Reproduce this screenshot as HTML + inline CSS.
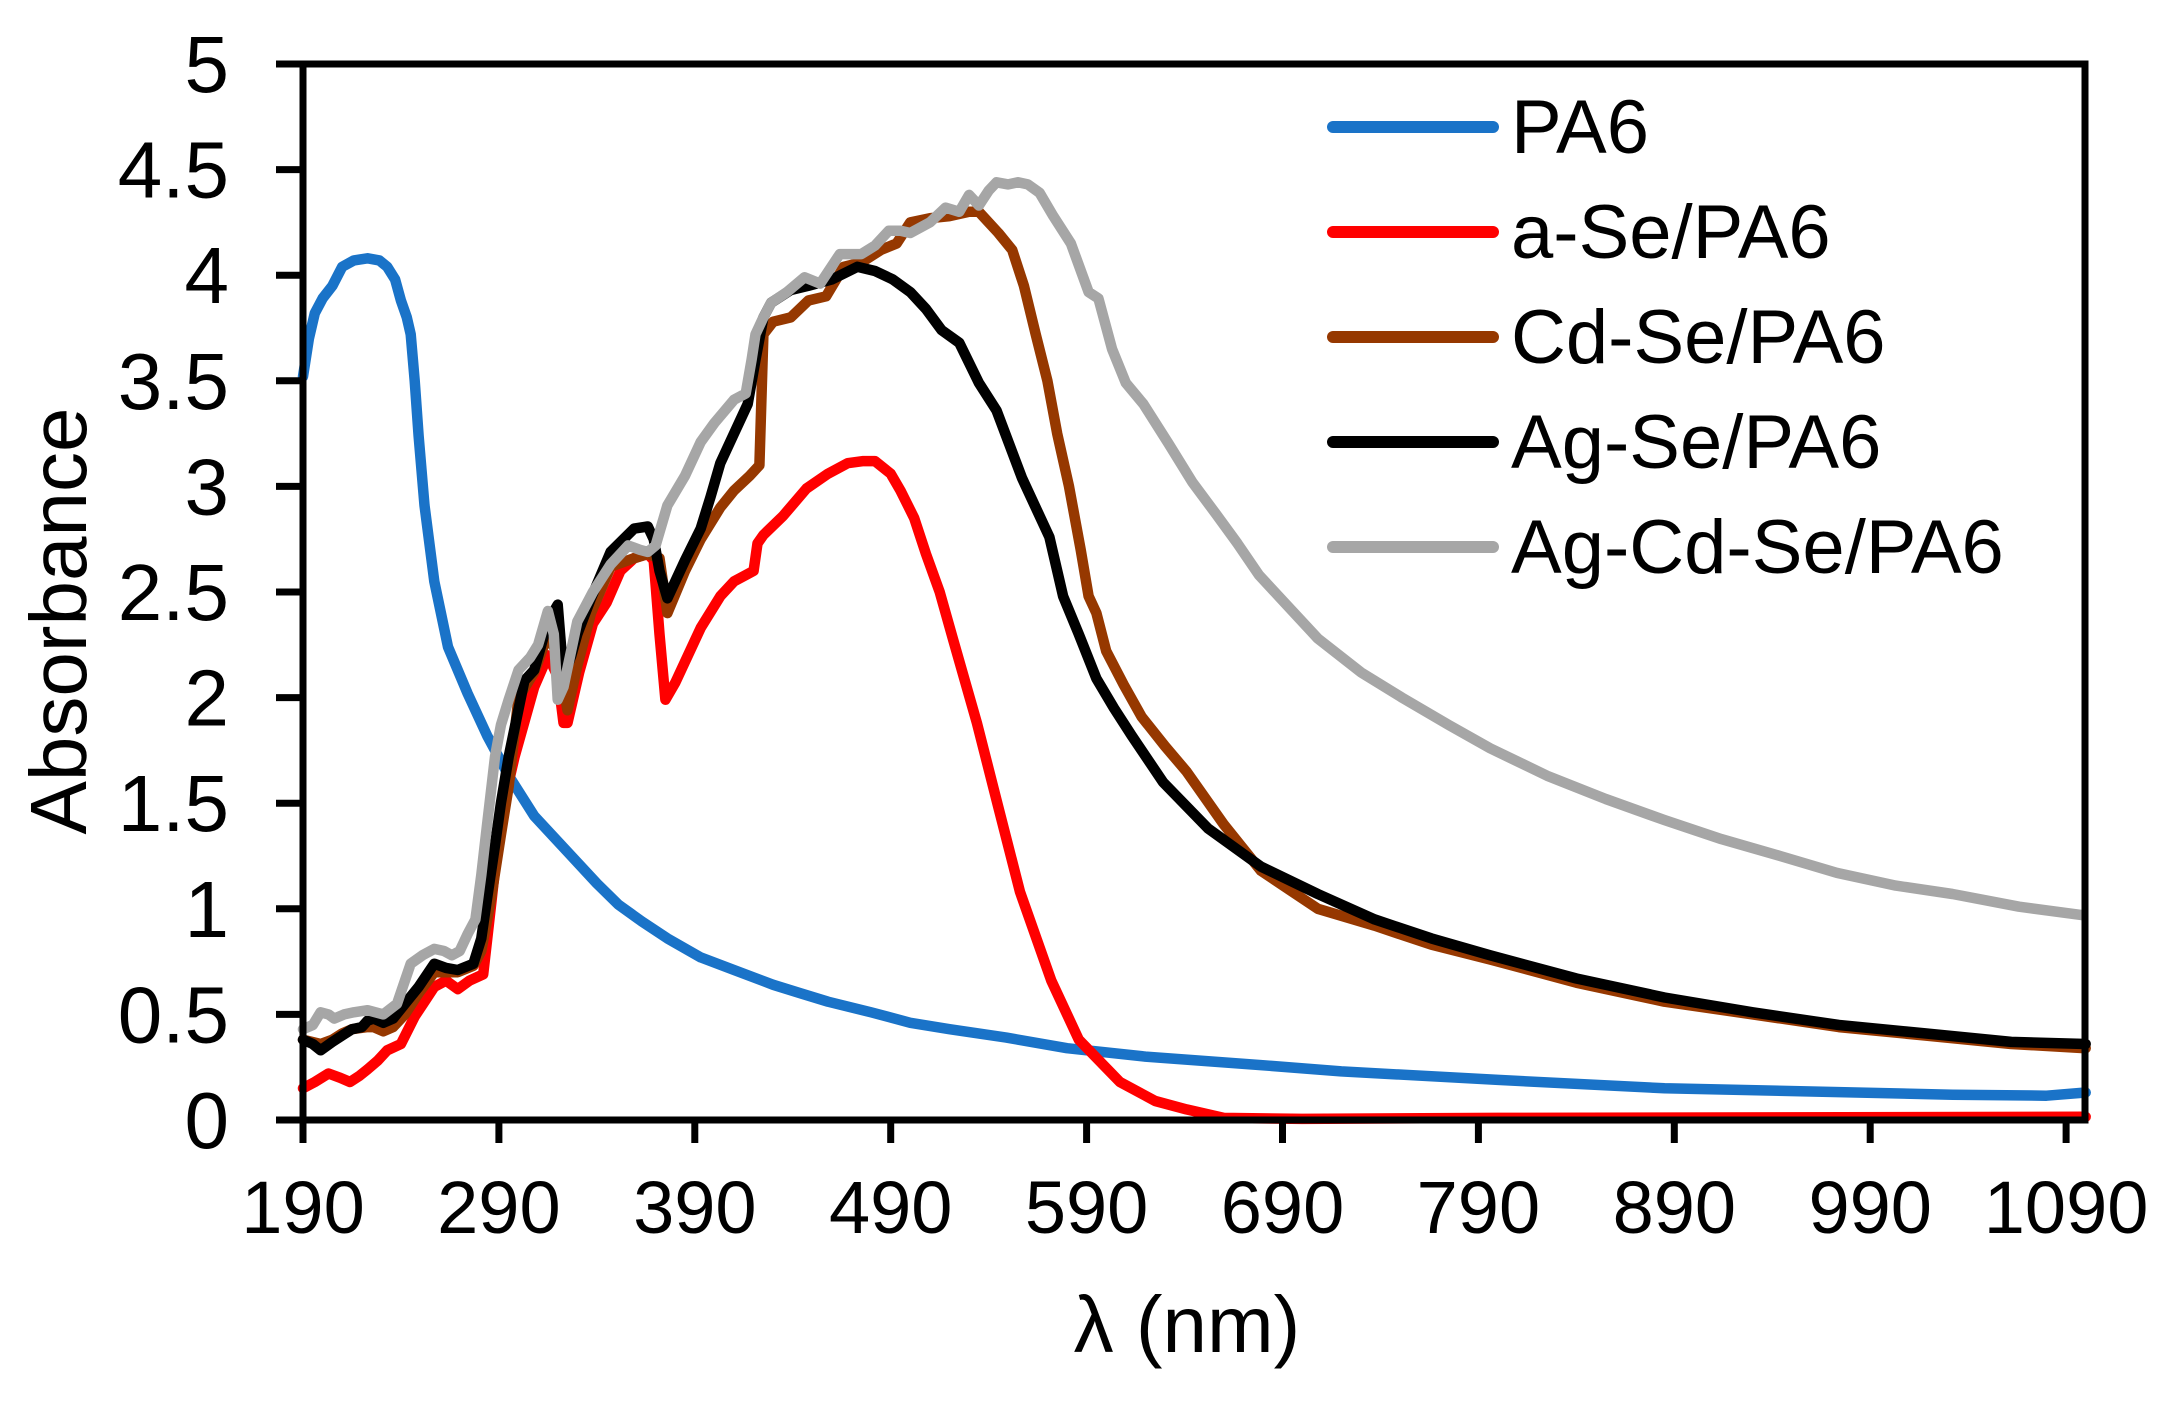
<!DOCTYPE html>
<html><head><meta charset="utf-8"><style>
html,body{margin:0;padding:0;background:#fff;}
svg{display:block;font-family:"Liberation Sans",Arial,sans-serif;}
</style></head><body>
<svg id="chart" width="2165" height="1401" viewBox="0 0 2165 1401" xmlns="http://www.w3.org/2000/svg">
<rect x="0" y="0" width="2165" height="1401" fill="#fff"/>
<g id="series"></g>
<g id="axes"></g>
<g id="legend"></g>
<text x="1187" y="1352" font-size="80" text-anchor="middle">λ (nm)</text>
<text transform="translate(86,621) rotate(-90)" font-size="80" text-anchor="middle">Absorbance</text>
</svg>
<script>
const xTicks = [190,290,390,490,590,690,790,890,990,1090];
const yTicks = [0,0.5,1,1.5,2,2.5,3,3.5,4,4.5,5];
const yTickLabels = ["0","0.5","1","1.5","2","2.5","3","3.5","4","4.5","5"];
const seriesNames = ["PA6","a-Se/PA6","Cd-Se/PA6","Ag-Se/PA6","Ag-Cd-Se/PA6"];
const seriesColors = ["#1a73c8","#ff0000","#963800","#000000","#a6a6a6"];

const pa6X = [190,193,196,200,205,210,216,223,229,233,237,240,243,245,247,249,252,257,264,274,284,295,308,325,340,351,363,376,393,410,430,444,458,480,500,520,549,580,620,679,720,800,885,960,1032,1080,1100];
const pa6Y = [3.52,3.7,3.82,3.89,3.95,4.04,4.07,4.08,4.07,4.04,3.98,3.88,3.8,3.72,3.5,3.24,2.91,2.55,2.24,2.02,1.82,1.63,1.44,1.27,1.12,1.02,0.94,0.86,0.77,0.71,0.64,0.6,0.56,0.51,0.46,0.43,0.39,0.34,0.3,0.26,0.23,0.19,0.15,0.135,0.12,0.115,0.13];

const aSeX = [190,196,203,209,214,219,223,228,233,240,247,252,257,263,269,275,282,286,291,298,308,315,320,323,325,331,338,345,352,359,366,369,372,375,380,393,403,410,416,420,422,425,435,447,458,468,476,482,490,495,502,508,515,522,534,545,556,572,586,607,625,641,660,700,800,1100];
const aSeY = [0.15,0.18,0.22,0.2,0.18,0.21,0.24,0.28,0.33,0.36,0.49,0.56,0.63,0.66,0.62,0.66,0.69,1.02,1.44,1.72,2.05,2.2,2.1,1.88,1.88,2.12,2.35,2.45,2.6,2.66,2.68,2.65,2.3,1.99,2.07,2.33,2.48,2.55,2.58,2.6,2.73,2.77,2.86,2.99,3.06,3.11,3.12,3.12,3.06,2.98,2.85,2.68,2.5,2.27,1.88,1.48,1.08,0.66,0.38,0.18,0.09,0.05,0.01,0.005,0.01,0.015];

const cdSeX = [190,199,205,210,215,223,226,231,236,242,249,257,263,269,277,281,286,291,295,300,308,315,320,325,330,337,347,359,366,372,376,385,393,403,410,418,423,425,430,439,448,457,466,475,485,493,500,510,520,530,535,539,545,552,558,564,570,575,581,587,591,595,600,609,618,630,641,660,679,708,737,766,796,840,885,930,974,1018,1062,1100];
const cdSeY = [0.38,0.36,0.38,0.41,0.43,0.44,0.44,0.42,0.44,0.5,0.6,0.7,0.7,0.7,0.73,0.8,1.05,1.35,1.58,2.0,2.12,2.3,2.2,1.94,2.15,2.4,2.62,2.66,2.68,2.66,2.4,2.6,2.75,2.9,2.98,3.05,3.1,3.72,3.78,3.8,3.88,3.9,4.04,4.06,4.12,4.15,4.25,4.27,4.28,4.3,4.3,4.26,4.2,4.12,3.95,3.72,3.5,3.25,3.0,2.7,2.48,2.4,2.22,2.06,1.91,1.77,1.65,1.4,1.18,1.0,0.92,0.83,0.76,0.65,0.56,0.5,0.44,0.4,0.36,0.34];

const agSeX = [190,195,199,205,210,215,220,223,226,231,236,242,249,257,263,269,277,281,284,288,291,295,303,308,315,320,323,327,330,337,347,359,366,369,372,376,385,393,398,403,410,417,421,425,429,439,448,460,473,482,491,500,508,516,525,535,544,557,571,578,586,595,604,613,629,652,679,708,737,766,796,840,885,930,974,1018,1062,1100];
const agSeY = [0.38,0.36,0.33,0.37,0.4,0.43,0.44,0.47,0.48,0.46,0.48,0.55,0.63,0.74,0.72,0.71,0.74,0.86,1.05,1.3,1.5,1.72,2.08,2.13,2.36,2.44,2.1,2.2,2.3,2.47,2.69,2.8,2.81,2.75,2.6,2.47,2.65,2.8,2.95,3.11,3.25,3.39,3.6,3.8,3.87,3.93,3.95,3.98,4.04,4.02,3.98,3.92,3.84,3.74,3.68,3.49,3.36,3.04,2.76,2.48,2.3,2.09,1.95,1.82,1.6,1.38,1.2,1.07,0.95,0.86,0.78,0.67,0.58,0.51,0.45,0.41,0.37,0.36];

const agCdSeX = [190,195,199,203,206,211,216,223,231,238,245,251,257,262,266,270,274,278,281,284,288,291,295,300,306,310,315,318,320,323,330,338,347,356,362,366,370,376,385,393,400,410,416,419,421,425,429,437,446,454,464,475,482,489,495,500,510,518,525,530,535,540,544,550,555,560,566,573,582,591,596,603,610,619,632,644,656,667,678,690,708,730,751,775,796,825,855,885,914,944,973,1003,1032,1066,1098];
const agCdSeY = [0.43,0.45,0.51,0.5,0.48,0.5,0.51,0.52,0.5,0.55,0.74,0.78,0.81,0.8,0.78,0.8,0.88,0.95,1.16,1.4,1.72,1.87,1.99,2.13,2.19,2.25,2.41,2.3,1.99,2.05,2.36,2.5,2.63,2.72,2.7,2.69,2.72,2.91,3.05,3.21,3.3,3.41,3.44,3.6,3.72,3.8,3.87,3.92,3.99,3.96,4.1,4.1,4.14,4.21,4.21,4.2,4.25,4.32,4.3,4.38,4.33,4.4,4.44,4.43,4.44,4.43,4.39,4.28,4.15,3.92,3.89,3.65,3.49,3.39,3.2,3.02,2.87,2.73,2.58,2.46,2.28,2.12,2.0,1.87,1.76,1.63,1.52,1.42,1.33,1.25,1.17,1.11,1.07,1.01,0.97];

const NS = "http://www.w3.org/2000/svg";
const X0 = 303, PX_PER_NM = 1.959, Y0 = 1120, PX_PER_UNIT = 211.2;
function xScale(nm){ return X0 + (nm - 190) * PX_PER_NM; }
function yScale(v){ return Y0 - v * PX_PER_UNIT; }
function mk(tag, attrs){ const e = document.createElementNS(NS, tag); for (const k in attrs) e.setAttribute(k, attrs[k]); return e; }

const seriesG = document.getElementById('series');
const allX = [pa6X, aSeX, cdSeX, agSeX, agCdSeX];
const allY = [pa6Y, aSeY, cdSeY, agSeY, agCdSeY];
const slugs = ["pa6","a-se-pa6","cd-se-pa6","ag-se-pa6","ag-cd-se-pa6"];
for (let s = 0; s < 5; s++) {
  let d = "";
  for (let i = 0; i < allX[s].length; i++) {
    d += (i ? "L" : "M") + xScale(allX[s][i]).toFixed(1) + "," + yScale(allY[s][i]).toFixed(1);
  }
  const p = mk('path', {d: d, fill: "none", stroke: seriesColors[s], "stroke-width": 10.5, "stroke-linejoin": "round", "stroke-linecap": "round"});
  
  
  seriesG.appendChild(p);
}

const axesG = document.getElementById('axes');
const frame = mk('rect', {x: 303, y: 64, width: 1782, height: 1056, fill: "none", stroke: "#000", "stroke-width": 7});


axesG.appendChild(frame);
for (let i = 0; i < yTicks.length; i++) {
  const y = yScale(yTicks[i]);
  const t = mk('line', {x1: 276, x2: 303, y1: y, y2: y, stroke: "#000", "stroke-width": 7});
  
  
  axesG.appendChild(t);
  const lb = mk('text', {x: 229, y: y + 28, "font-size": 80, "text-anchor": "end"});
  lb.textContent = yTickLabels[i];
  
  
  axesG.appendChild(lb);
}
for (let i = 0; i < xTicks.length; i++) {
  const x = xScale(xTicks[i]);
  const t = mk('line', {x1: x, x2: x, y1: 1120, y2: 1143, stroke: "#000", "stroke-width": 7});
  
  
  axesG.appendChild(t);
  const lb = mk('text', {x: x, y: 1233, "font-size": 74, "text-anchor": "middle"});
  lb.textContent = String(xTicks[i]);
  
  
  axesG.appendChild(lb);
}

const legG = document.getElementById('legend');
for (let s = 0; s < 5; s++) {
  const y = 127 + s * 105;
  const g = mk('g', {});
  
  
  const l = mk('line', {x1: 1333, x2: 1493, y1: y, y2: y, stroke: seriesColors[s], "stroke-width": 12, "stroke-linecap": "round"});
  
  
  g.appendChild(l);
  const tx = mk('text', {x: 1511, y: y + 26, "font-size": 76});
  tx.textContent = seriesNames[s];
  
  
  g.appendChild(tx);
  legG.appendChild(g);
}
</script>
</body></html>
